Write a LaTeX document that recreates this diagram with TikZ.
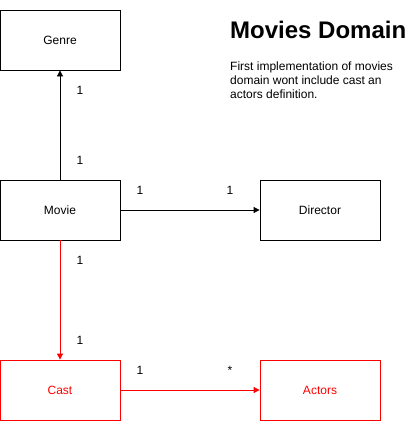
\documentclass[tikz,border=0pt]{standalone}
\usepackage{fontspec}
\setmainfont{Liberation Sans}
\usetikzlibrary{arrows.meta}
\begin{document}
\begin{tikzpicture}[x=1pt,y=-1pt,
  box/.style={draw,line width=0.8pt,minimum width=120pt,minimum height=60pt,inner sep=0pt,font=\fontsize{12}{14}\selectfont},
  redbox/.style={box,draw=red,text=red},
  lbl/.style={font=\fontsize{12}{14}\selectfont,inner sep=0pt},
  conn/.style={line width=0.8pt,-{Triangle[length=6pt,width=6pt]}},
  redconn/.style={conn,draw=red,-{Triangle[length=6pt,width=6pt,fill=red]}}]
\useasboundingbox (0,0) rectangle (416,421);
\node[box] (genre) at (60,40) {Genre};
\node[box] (movie) at (60,210) {Movie};
\node[box] (director) at (320,210) {Director};
\node[redbox] (cast) at (60,390) {Cast};
\node[redbox] (actors) at (320,390) {Actors};
\draw[conn] (movie.north) -- (genre.south);
\draw[conn] (movie.east) -- (director.west);
\draw[redconn] (movie.south) -- (cast.north);
\draw[redconn] (cast.east) -- (actors.west);
\node[lbl] (l1) at (80,90) {1};
\node[lbl] (l2) at (80,160) {1};
\node[lbl] (l3) at (140,190) {1};
\node[lbl] (l4) at (230,190) {1};
\node[lbl] (l5) at (80,260) {1};
\node[lbl] (l6) at (80,340) {1};
\node[lbl] (l7) at (140,370) {1};
\node[lbl] (l8) at (230,370) {*};
\node[anchor=west,inner sep=0pt,font=\fontsize{24}{28}\selectfont\bfseries] (title) at (230,30) {Movies Domain};
\node[anchor=north west,inner sep=0pt,align=left,font=\fontsize{12}{13.8}\selectfont] (desc) at (230,62) {First implementation of movies\\domain wont include cast an\\actors definition.};
\end{tikzpicture}
\end{document}
